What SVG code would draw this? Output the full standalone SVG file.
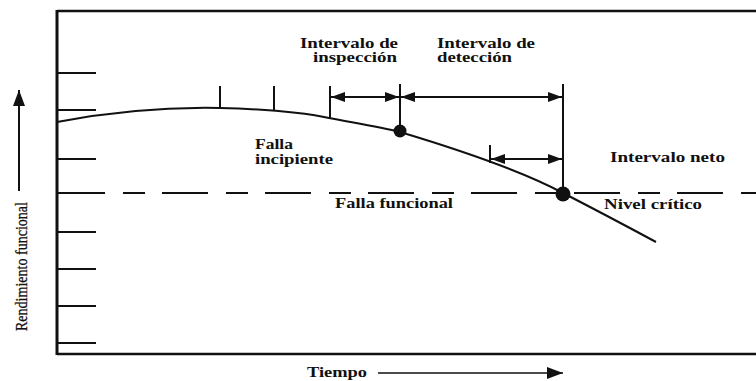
<svg xmlns="http://www.w3.org/2000/svg" width="756" height="381" viewBox="0 0 756 381">
<defs>
<style>
.ln{stroke:#111;stroke-width:2;fill:none}
.ax{stroke:#111;stroke-width:2.5;fill:none}
.lbl{font-family:"Liberation Serif","Times New Roman",serif;font-size:14px;font-weight:bold;fill:#111}
.ylbl{font-family:"Liberation Serif","Times New Roman",serif;font-size:17px;fill:#111;stroke:#111;stroke-width:0.3}
</style>
<marker id="ah" viewBox="0 0 14 10" refX="14" refY="5" markerWidth="14" markerHeight="10" markerUnits="userSpaceOnUse" orient="auto-start-reverse">
<path d="M0,0 L14,5 L0,10 Z" fill="#111"/>
</marker>
<marker id="ahl" viewBox="0 0 16 12" refX="16" refY="6" markerWidth="16" markerHeight="12" markerUnits="userSpaceOnUse" orient="auto">
<path d="M0,0 L16,6 L0,12 Z" fill="#111"/>
</marker>
</defs>
<rect width="756" height="381" fill="#fff"/>
<g id="frame">
<line class="ax" x1="57" y1="11" x2="756" y2="11"/>
<line class="ax" x1="57" y1="354" x2="756" y2="354"/>
<line x1="57" y1="10" x2="57" y2="355" stroke="#111" stroke-width="3"/>
<g class="ln">
<line x1="57" y1="73" x2="96" y2="73"/>
<line x1="57" y1="110" x2="96" y2="110"/>
<line x1="57" y1="159" x2="96" y2="159"/>
<line x1="57" y1="232" x2="96" y2="232"/>
<line x1="57" y1="269" x2="96" y2="269"/>
<line x1="57" y1="306" x2="96" y2="306"/>
<line x1="57" y1="343" x2="96" y2="343"/>
</g>
</g>
<g id="critical-level">
<line class="ln" x1="57" y1="193" x2="105" y2="193" stroke-width="2.5"/>
<line class="ln" x1="123" y1="193" x2="756" y2="193" stroke-width="2.5" stroke-dasharray="22 17 46 18"/>
</g>
<g id="curve">
<path class="ln" stroke-width="2.4" d="M57,122 C110,112 170,107 220,108 C260,109 300,112 329,118 C355,123 380,127 400,132 C460,150 520,170 563,193 C600,212 630,228 656,242"/>
</g>
<g id="connectors">
<g class="ln">
<line x1="220" y1="86" x2="220" y2="109"/>
<line x1="274" y1="86" x2="274" y2="111"/>
<line x1="330" y1="86" x2="330" y2="118"/>
<line x1="400" y1="84" x2="400" y2="131"/>
<line x1="563" y1="84" x2="563" y2="193"/>
<line x1="490" y1="145" x2="490" y2="163"/>
<line x1="331" y1="97" x2="399" y2="97" marker-start="url(#ah)" marker-end="url(#ah)"/>
<line x1="401" y1="97" x2="562" y2="97" marker-start="url(#ah)" marker-end="url(#ah)"/>
<line x1="491" y1="159" x2="562" y2="159" marker-start="url(#ah)" marker-end="url(#ah)"/>
<line x1="19" y1="191" x2="19" y2="90" marker-end="url(#ahl)"/>
<line x1="378" y1="373" x2="563" y2="373" stroke-width="1.6" marker-end="url(#ahl)"/>
</g>
<circle cx="400" cy="131" r="6.5" fill="#111"/>
<circle cx="563" cy="194" r="7.5" fill="#111"/>
</g>
<g id="labels">
<text class="lbl" x="300" y="48" textLength="98" lengthAdjust="spacingAndGlyphs">Intervalo de</text>
<text class="lbl" x="313" y="62" textLength="84" lengthAdjust="spacingAndGlyphs">inspección</text>
<text class="lbl" x="437" y="48" textLength="98" lengthAdjust="spacingAndGlyphs">Intervalo de</text>
<text class="lbl" x="437" y="62" textLength="75" lengthAdjust="spacingAndGlyphs">detección</text>
<text class="lbl" x="255" y="149" textLength="38" lengthAdjust="spacingAndGlyphs">Falla</text>
<text class="lbl" x="255" y="164" textLength="78" lengthAdjust="spacingAndGlyphs">incipiente</text>
<text class="lbl" x="610" y="162" textLength="115" lengthAdjust="spacingAndGlyphs">Intervalo neto</text>
<text class="lbl" x="335" y="208" textLength="118" lengthAdjust="spacingAndGlyphs">Falla funcional</text>
<text class="lbl" x="604" y="209" textLength="98" lengthAdjust="spacingAndGlyphs">Nivel crítico</text>
<text class="lbl" x="307" y="377" textLength="60" lengthAdjust="spacingAndGlyphs">Tiempo</text>
<text class="ylbl" transform="translate(27,331) rotate(-90)" textLength="129" lengthAdjust="spacingAndGlyphs">Rendimiento funcional</text>
</g>
</svg>
